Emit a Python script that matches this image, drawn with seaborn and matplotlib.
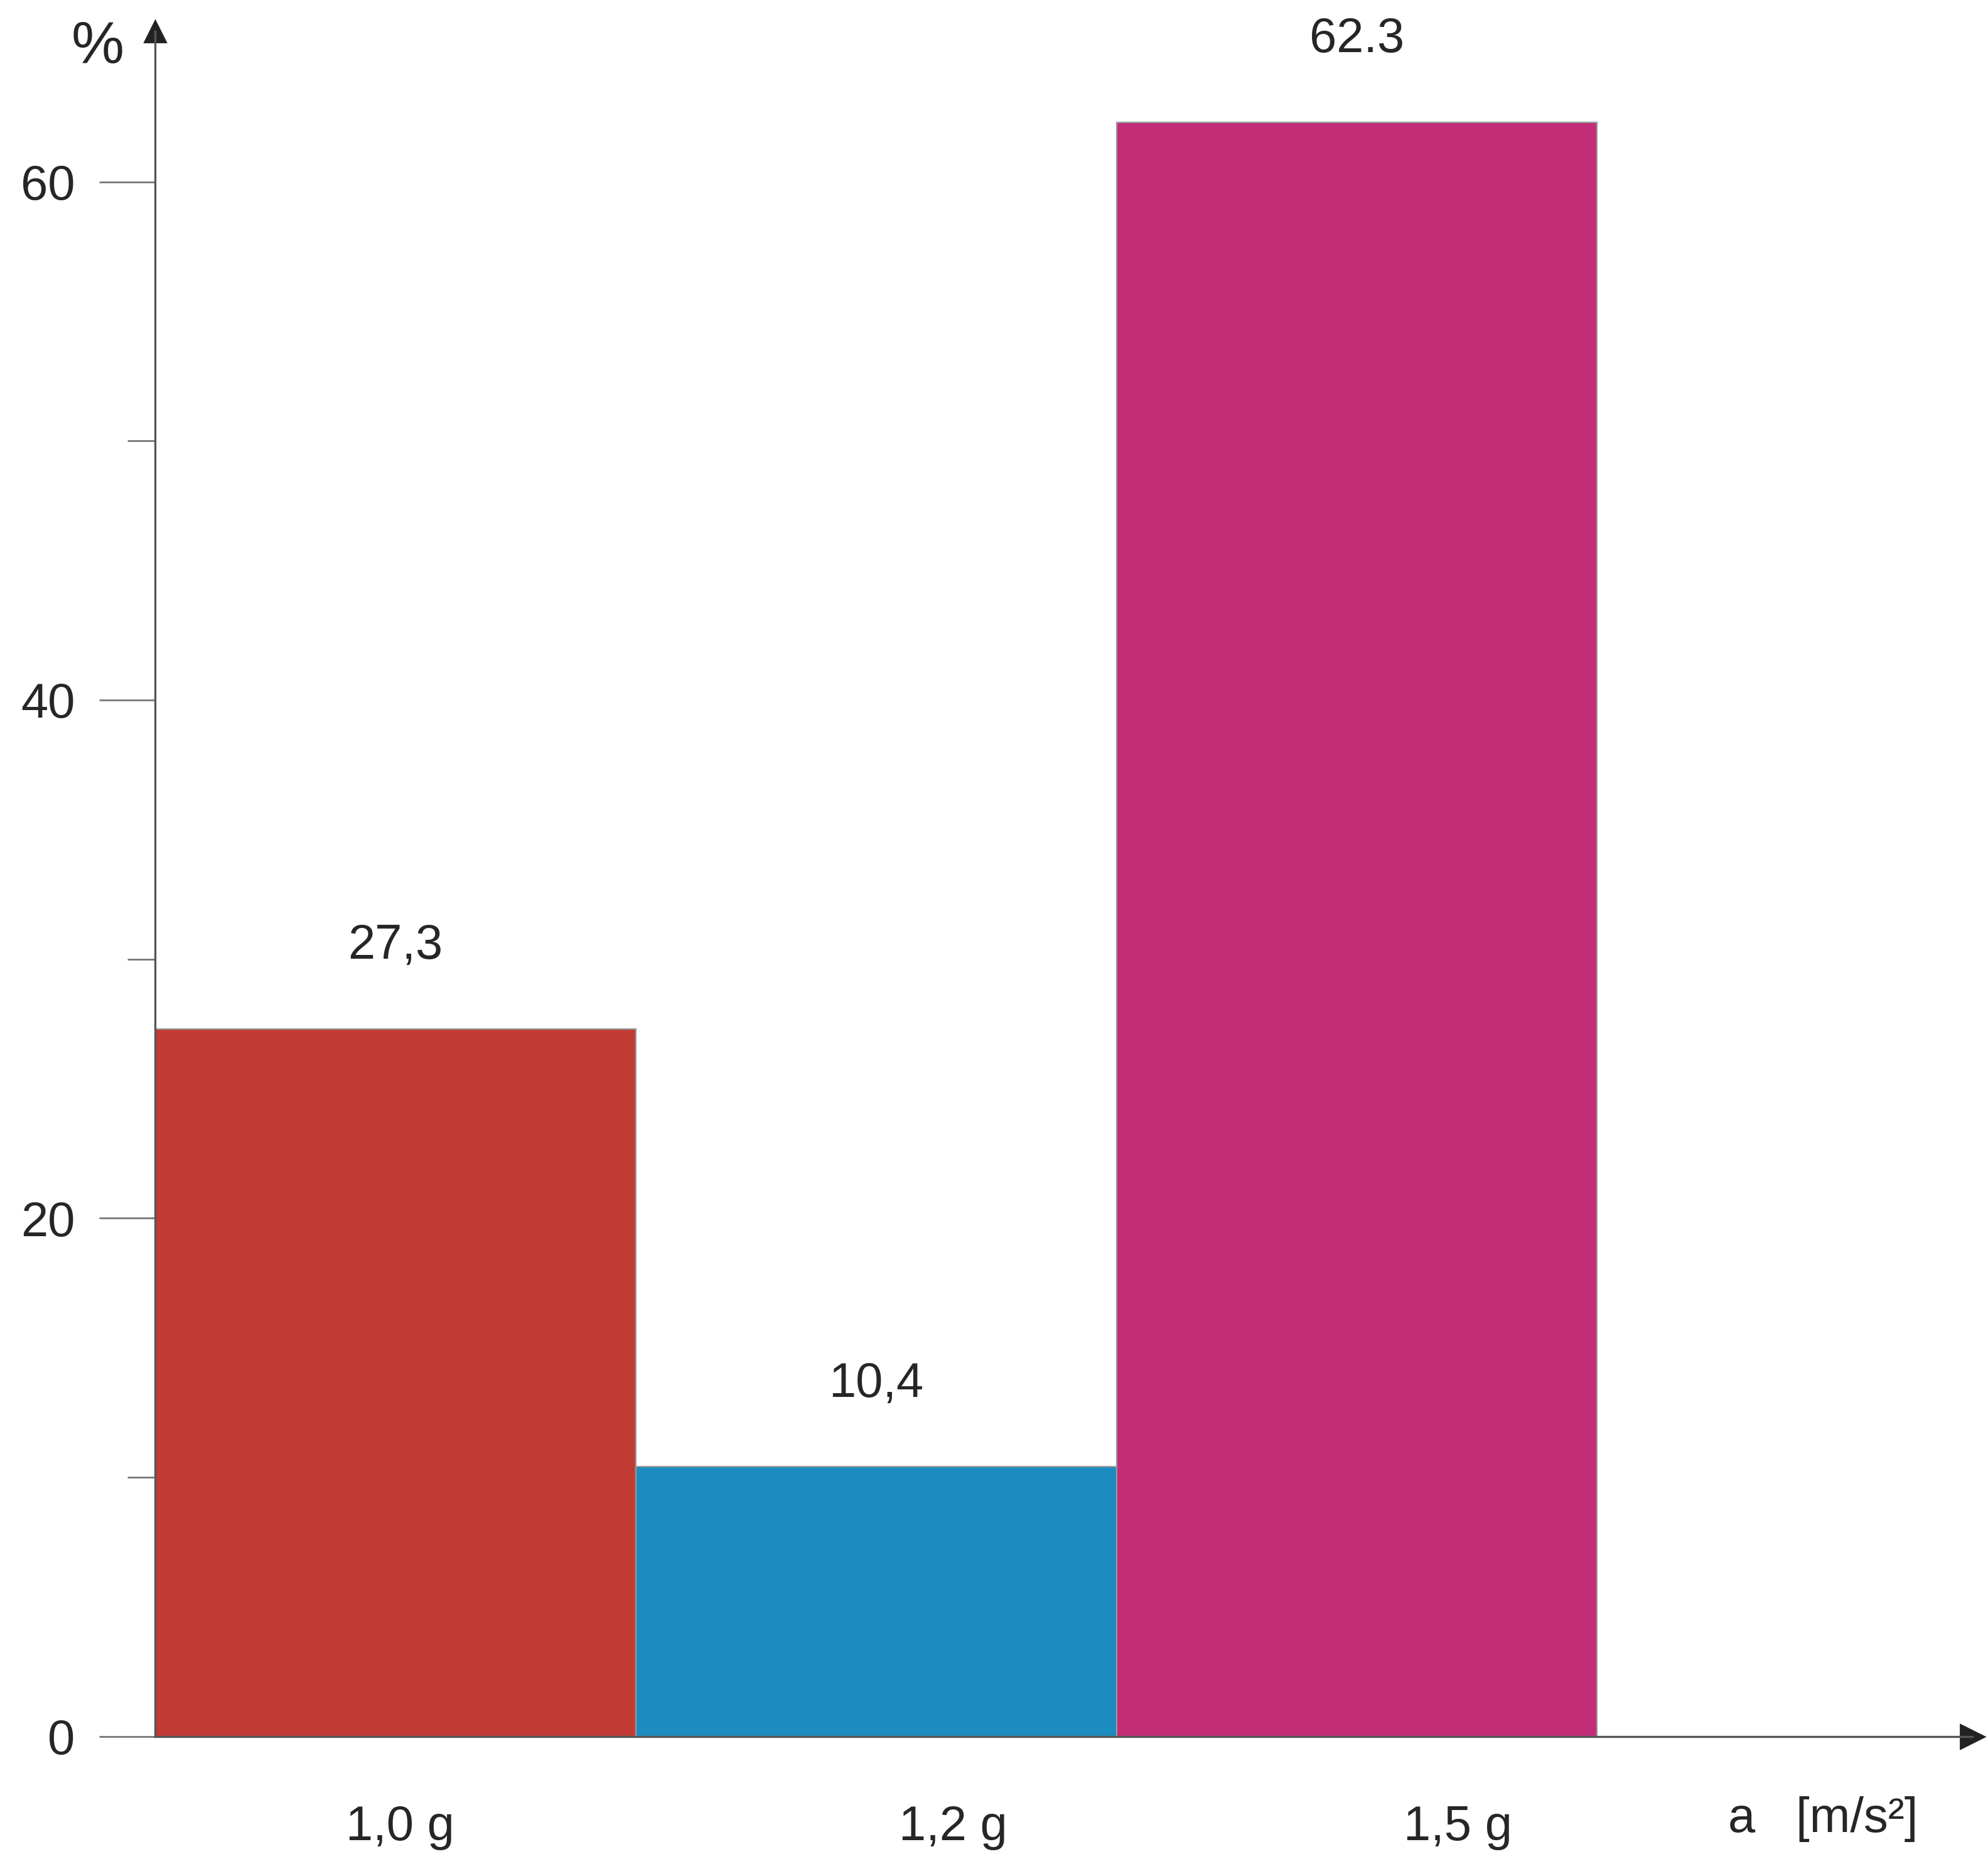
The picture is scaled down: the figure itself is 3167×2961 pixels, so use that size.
import seaborn as sns
import matplotlib.pyplot as plt
import pandas as pd

categorias = ['1.0 g', '1,2 g', '1,5 g']
valores = [27.3, 10.4, 62.3]
rotulos_valores = ['27,3', '10,4', '62.3']
rotulos_x = ['1,0 g', '1,2 g', '1,5 g']
cores = ['#d9241c', '#0095db', '#dc1477']

sns.set_style('white')
plt.rcParams['font.family'] = ['Liberation Sans', 'DejaVu Sans']

fig = plt.figure(figsize=(15.835, 14.805), dpi=200)
ax = fig.add_axes([0.078, 0.066, 0.914, 0.917])

dados = pd.DataFrame({'cat': categorias, 'val': valores})
sns.barplot(data=dados, x='cat', y='val', hue='cat', palette=cores, width=1.0,
            legend=False, edgecolor='#999999', linewidth=0.8, ax=ax)

ax.set_xlim(-0.5, 3.28)
ax.set_ylim(0, 65.8)
for s in ['top', 'right']:
    ax.spines[s].set_visible(False)
for s in ['left', 'bottom']:
    ax.spines[s].set_color('#555555')
    ax.spines[s].set_linewidth(1.2)

ax.set_yticks([0, 20, 40, 60])
ax.set_yticks([10, 30, 50], minor=True)
ax.tick_params(axis='y', which='major', length=32, width=1.0, color='#777777',
               labelsize=28, pad=14, left=True)
ax.tick_params(axis='y', which='minor', length=16, width=1.0, color='#777777', left=True)
ax.set_xticks([])
ax.set_xlabel('')
ax.set_ylabel('')

# setas nos eixos
ax.plot(1, 0, '>', color='#222222', markersize=14, transform=ax.transAxes, clip_on=False)
ax.plot(0, 1, '^', color='#222222', markersize=12, transform=ax.transAxes, clip_on=False)

for i, (v, r) in enumerate(zip(valores, rotulos_valores)):
    ax.text(i, v + 3.2, r, ha='center', va='center', fontsize=28)

pos_x = [0.01, 1.16, 2.21]
for x, r in zip(pos_x, rotulos_x):
    ax.text(x, -3.5, r, ha='center', va='center', fontsize=28, clip_on=False)
ax.text(2.97, -3.2, 'a   [m/s²]', ha='center', va='center', fontsize=28, clip_on=False)
ax.text(-0.62, 65.2, '%', ha='center', va='center', fontsize=34, clip_on=False)

fig.savefig('out.png', dpi=200)
